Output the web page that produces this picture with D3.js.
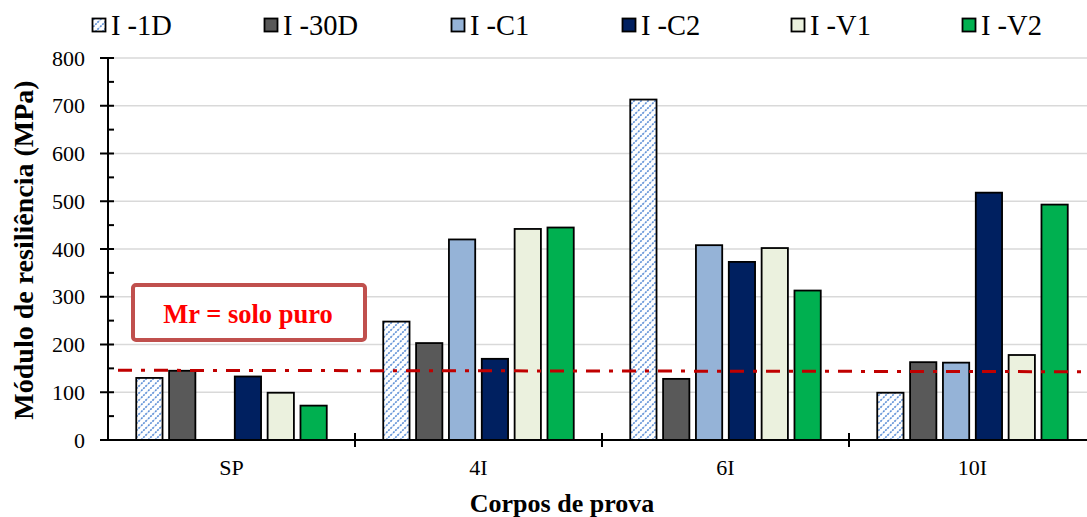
<!DOCTYPE html>
<html><head><meta charset="utf-8">
<script src="https://cdn.jsdelivr.net/npm/d3@7"></script>
<style>body{margin:0;background:#fff}svg{display:block}</style>
</head><body>
<svg id="c" width="1087" height="517"></svg>
<script>
const categories = ["SP", "4I", "6I", "10I"];
const seriesNames = ["I -1D", "I -30D", "I -C1", "I -C2", "I -V1", "I -V2"];
const v1D  = [130, 248, 713, 99];
const v30D = [145, 203, 128, 163];
const vC1  = [null, 420, 408, 162];
const vC2  = [133, 170, 373, 518];
const vV1  = [99, 442, 402, 178];
const vV2  = [72, 445, 313, 493];
const refLine = [146, 143];
const yTicks = [0, 100, 200, 300, 400, 500, 600, 700, 800];
const seriesValues = [v1D, v30D, vC1, vC2, vV1, vV2];
const colors = ["url(#hatch)", "#595959", "#95B3D7", "#002060", "#EBF1DE", "#00B050"];

const svg = d3.select("#c");
const F = "'Liberation Serif','Times New Roman',serif";
const L = 108, R = 1096, T = 58, B = 440, W = 1087;

const defs = svg.append("defs");
const pat = defs.append("pattern").attr("id", "hatch").attr("patternUnits", "userSpaceOnUse")
  .attr("width", 7).attr("height", 7);
pat.append("rect").attr("width", 7).attr("height", 7).attr("fill", "#fff");
pat.append("path").attr("d", "M-1,8 L8,-1 M-2,2 L2,-2 M5,9 L9,5").attr("stroke", "#5B8ED6")
  .attr("stroke-width", 1.6).attr("stroke-dasharray", "2,1");

const y = d3.scaleLinear().domain([0, 800]).range([B, T]);
const x0 = d3.scaleBand().domain(categories).range([L, R]).padding(0);
const x1 = d3.scaleBand().domain(seriesNames).range([0, x0.bandwidth()]).paddingInner(0.2).paddingOuter(0.86);

// gridlines
svg.append("g").selectAll("line").data(yTicks.filter(d => d > 0)).join("line")
  .attr("x1", L).attr("x2", W).attr("y1", d => y(d)).attr("y2", d => y(d))
  .attr("stroke", "#D9D9D9").attr("stroke-width", 1.5);

// bars
const data = [];
categories.forEach((c, ci) => seriesNames.forEach((s, si) => {
  const v = seriesValues[si][ci];
  if (v != null) data.push({c, s, v, si});
}));
svg.append("g").selectAll("rect").data(data).join("rect")
  .attr("x", d => x0(d.c) + x1(d.s)).attr("width", x1.bandwidth())
  .attr("y", d => y(d.v)).attr("height", d => y(0) - y(d.v))
  .attr("fill", d => colors[d.si]).attr("stroke", "#000").attr("stroke-width", 1.8);

// reference dash-dot line
svg.append("line").attr("x1", L + 10).attr("x2", W).attr("y1", y(refLine[0])).attr("y2", y(refLine[1]))
  .attr("stroke", "#C00000").attr("stroke-width", 3).attr("stroke-dasharray", "14,9,4,9");

// y axis
const yAxis = d3.axisLeft(y).tickValues(yTicks).tickSize(0).tickPadding(23);
const gy = svg.append("g").attr("transform", `translate(${L},0)`).call(yAxis)
  .attr("font-family", F).attr("font-size", 22);
gy.select(".domain").remove();
gy.selectAll("text").style("font-family", F).style("font-size", "22px").attr("fill", "#000");
svg.append("line").attr("x1", L).attr("x2", L).attr("y1", T).attr("y2", B).attr("stroke", "#000").attr("stroke-width", 2);
svg.append("g").selectAll("line").data(yTicks).join("line")
  .attr("x1", L - 8).attr("x2", L + 6).attr("y1", d => y(d)).attr("y2", d => y(d)).attr("stroke", "#000").attr("stroke-width", 2);
svg.append("g").selectAll("line").data(d3.range(50, 800, 100)).join("line")
  .attr("x1", L).attr("x2", L + 6).attr("y1", d => y(d)).attr("y2", d => y(d)).attr("stroke", "#000").attr("stroke-width", 2);

// x axis
svg.append("line").attr("x1", L).attr("x2", W).attr("y1", B).attr("y2", B).attr("stroke", "#000").attr("stroke-width", 2);
svg.append("g").selectAll("line").data(categories.slice(1)).join("line")
  .attr("x1", d => x0(d)).attr("x2", d => x0(d)).attr("y1", B - 7).attr("y2", B + 7).attr("stroke", "#000").attr("stroke-width", 2);
const xAxis = d3.axisBottom(x0).tickSize(0).tickPadding(19);
const gx = svg.append("g").attr("transform", `translate(0,${B})`).call(xAxis)
  .attr("font-family", F).attr("font-size", 22);
gx.select(".domain").remove();
gx.selectAll("text").style("font-family", F).style("font-size", "22px").attr("fill", "#000");

// axis titles
svg.append("text").attr("transform", `translate(33,${250}) rotate(-90)`).attr("text-anchor", "middle")
  .attr("font-family", F).attr("font-size", 28).attr("font-weight", "bold").text("Módulo de resiliência (MPa)");
svg.append("text").attr("x", 562).attr("y", 512).attr("text-anchor", "middle")
  .attr("font-family", F).attr("font-size", 26).attr("font-weight", "bold").text("Corpos de prova");

// annotation box
svg.append("rect").attr("x", 133).attr("y", 285).attr("width", 232).attr("height", 55).attr("rx", 3)
  .attr("fill", "#fff").attr("stroke", "#C0504D").attr("stroke-width", 4);
svg.append("text").attr("x", 248).attr("y", 323).attr("text-anchor", "middle")
  .attr("font-family", F).attr("font-size", 26.5).attr("font-weight", "bold").attr("fill", "#FF0000").text("Mr = solo puro");

// legend
const legX = [92, 264, 451, 622, 791, 962];
const lg = svg.append("g").selectAll("g").data(seriesNames).join("g")
  .attr("transform", (d, i) => `translate(${legX[i]},0)`);
lg.append("rect").attr("x", 0.5).attr("y", 18.5).attr("width", 13).attr("height", 13)
  .attr("fill", (d, i) => colors[i]).attr("stroke", "#000").attr("stroke-width", 1.8);
lg.append("text").attr("x", 19).attr("y", 35).attr("font-family", F).attr("font-size", 28.5).text(d => d);
</script>
</body></html>
